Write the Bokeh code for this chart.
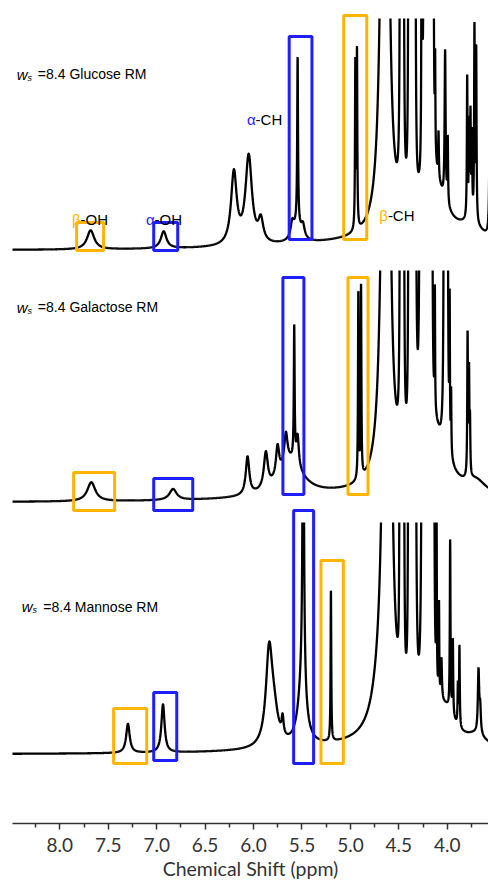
import numpy as np
from bokeh.plotting import figure
from bokeh.models import Label, Range1d, FixedTicker, PrintfTickFormatter
from bokeh.embed import file_html
from bokeh.resources import INLINE

# ---------------- data: peak tables (ppm, height in a.u., half-width in ppm)
glc_pos = [7.682, 6.928, 6.203, 6.050, 5.925, 5.600, 5.545, 5.550, 5.490, 4.949, 4.932,
           4.700, 4.150, 3.750, 4.640, 4.660,
           4.483, 4.468, 4.454, 4.396, 4.375, 4.354, 4.333,
           4.262, 4.239, 4.216, 4.193, 4.170, 4.147,
           4.125, 4.090, 4.022, 3.995, 3.794, 3.775, 3.760, 3.745, 3.719, 3.701, 3.560]
glc_hgt = [19, 17, 72, 88, 22, 14, 165, 18, 12, 165, 175,
           8, 60, 15, 1500, 130,
           1500, 1500, 1500, 1500, 1500, 1500, 1500,
           1500, 1500, 1500, 1500, 1500, 1500,
           90, 45, 150, 65, 140, 90, 100, 80, 190, 170, 150]
glc_hw = [0.045, 0.035, 0.035, 0.040, 0.030, 0.020, 0.005, 0.050, 0.020, 0.004, 0.004,
          1.0, 0.15, 0.15, 0.020, 0.040,
          0.003, 0.003, 0.003, 0.003, 0.003, 0.003, 0.003,
          0.002, 0.003, 0.003, 0.003, 0.003, 0.003,
          0.003, 0.004, 0.006, 0.004, 0.004, 0.004, 0.004, 0.004, 0.004, 0.004, 0.006]

gal_pos = [7.675, 6.831, 6.062, 5.873, 5.752, 5.666, 5.620, 5.580, 5.545, 4.918, 4.890,
           4.700, 4.150, 3.700, 4.630, 4.660,
           4.483, 4.468, 4.452, 4.395, 4.374, 4.353, 4.333,
           4.275, 4.252, 4.229, 4.206, 4.183, 4.160,
           4.128, 4.030, 4.015, 4.000, 3.975, 3.960, 3.790, 3.775, 3.765]
gal_hgt = [19, 11, 38, 36, 30, 30, 35, 132, 30, 185, 190,
           8, 60, 12, 2000, 120,
           1500, 1500, 1500, 1500, 1500, 1500, 1500,
           1500, 1500, 1500, 1500, 1500, 1500,
           120, 1500, 1500, 1500, 140, 60, 140, 100, 50]
gal_hw = [0.050, 0.045, 0.022, 0.025, 0.020, 0.020, 0.150, 0.005, 0.015, 0.004, 0.004,
          1.0, 0.15, 0.12, 0.0175, 0.040,
          0.003, 0.003, 0.003, 0.003, 0.003, 0.003, 0.005,
          0.005, 0.003, 0.003, 0.003, 0.003, 0.003,
          0.003, 0.003, 0.003, 0.003, 0.003, 0.003, 0.004, 0.004, 0.004]

man_pos = [7.297, 6.935, 5.839, 5.790, 5.700, 5.487, 5.487, 5.500, 5.201,
           4.700, 4.150, 4.000, 3.700, 4.620, 4.680,
           4.489, 4.468, 4.452, 4.397, 4.376, 4.355, 4.333,
           4.255, 4.232, 4.209, 4.186, 4.163, 4.140,
           4.110, 4.085, 4.060, 3.970, 3.942, 3.890, 3.874, 3.677, 3.660]
man_hgt = [29, 48, 92, 28, 18, 1000, 100, 55, 150,
           8, 30, 20, 10, 2025, 40,
           1500, 1500, 1500, 1500, 1500, 1500, 1500,
           1500, 1500, 1500, 1500, 1500, 1500,
           160, 90, 40, 170, 75, 40, 80, 62, 25]
man_hw = [0.022, 0.020, 0.040, 0.050, 0.012, 0.003, 0.015, 0.050, 0.004,
          1.0, 0.15, 0.10, 0.12, 0.020, 0.10,
          0.002, 0.003, 0.003, 0.003, 0.003, 0.003, 0.005,
          0.005, 0.003, 0.003, 0.003, 0.003, 0.003,
          0.003, 0.003, 0.006, 0.004, 0.004, 0.004, 0.004, 0.008, 0.008]

sample_names = ["Glucose", "Galactose", "Mannose"]
trace_offsets = [504, 252, 0]
clip_height = 232

# highlight boxes: (ppm left, ppm right, bottom, top) relative to each trace's baseline
box_trace = [0, 0, 0, 0, 1, 1, 1, 1, 2, 2, 2, 2]
box_left = [7.827, 7.031, 5.632, 5.069, 7.858, 7.031, 5.697, 5.025, 7.445, 7.031, 5.586, 5.304]
box_right = [7.548, 6.783, 5.397, 4.831, 7.434, 6.628, 5.480, 4.818, 7.103, 6.793, 5.380, 5.073]
box_bottom = [0, 0, 11, 11, -8, -8, 8, 8, -9, -6, -9, -9]
box_top = [28, 28, 214, 235, 30, 24, 225, 225, 46, 62, 244, 194]
box_kind = ["beta", "alpha", "alpha", "beta", "beta", "alpha", "alpha", "beta",
            "beta", "alpha", "alpha", "beta"]

ORANGE = "#FFB400"
BLUE = "#1E1EFF"
BASE = 69

x_start, x_end = 8.489, 3.574
xx = np.linspace(3.50, 8.55, 24000)


def spectrum(pos, hgt, hw):
    y = np.zeros_like(xx)
    for c, h, w in zip(pos, hgt, hw):
        y += h * w * w / ((xx - c) ** 2 + w * w)
    return y


def clip_line(x, y, top):
    xs, ys = [], []
    above = y > top
    for i in range(len(x)):
        if i > 0 and above[i] != above[i - 1]:
            t = (top - y[i - 1]) / (y[i] - y[i - 1])
            xs.append(x[i - 1] + t * (x[i] - x[i - 1]))
            ys.append(top)
            if above[i]:
                xs.append(np.nan)
                ys.append(np.nan)
        if not above[i]:
            xs.append(x[i])
            ys.append(y[i])
    return np.array(xs), np.array(ys)


p = figure(width=488, height=883, output_backend="svg", toolbar_location=None,
           x_range=Range1d(x_start, x_end), y_range=Range1d(0, 815),
           min_border_left=12, min_border_right=0, min_border_top=8, min_border_bottom=60)
p.grid.visible = False
p.yaxis.visible = False
p.outline_line_color = None
p.background_fill_color = "white"

tables = [(glc_pos, glc_hgt, glc_hw), (gal_pos, gal_hgt, gal_hw), (man_pos, man_hgt, man_hw)]
for (pos, hgt, hw), off in zip(tables, trace_offsets):
    y = spectrum(pos, hgt, hw)
    xs, ys = clip_line(xx, y, clip_height)
    p.line(xs, ys + BASE + off, line_color="black", line_width=2.3)

for i in range(len(box_left)):
    off = trace_offsets[box_trace[i]] + BASE
    p.quad(left=box_left[i], right=box_right[i], bottom=box_bottom[i] + off, top=box_top[i] + off,
           fill_alpha=0, line_color=ORANGE if box_kind[i] == "beta" else BLUE, line_width=3)

# sample labels ("w" italic with subscript "s")
name_split = [8.333, 8.333, 8.282]
name_y = [176.5, 195.5, 148]
name_rest_x = [8.227, 8.227, 8.171]
for nm, sx, ny, rx, off in zip(sample_names, name_split, name_y, name_rest_x, trace_offsets):
    yb = BASE + off + ny
    p.add_layout(Label(x=sx, y=yb, text="w", text_font="Liberation Sans", text_font_size="15px",
                       text_font_style="italic", text_align="right", text_baseline="alphabetic",
                       text_color="black"))
    p.add_layout(Label(x=sx, y=yb - 3.5, text="s", text_font="Liberation Sans",
                       text_font_size="9px", text_font_style="italic", text_align="left",
                       text_baseline="alphabetic", text_color="black"))
    p.add_layout(Label(x=rx, y=yb, text="=8.4 " + nm + " RM", text_font="Liberation Sans",
                       text_font_size="14px", text_align="left", text_baseline="alphabetic",
                       text_color="black"))

# peak annotations (glucose panel)
ann_x = [7.786, 7.022, 5.979, 4.613]
ann_y = [31.5, 31.5, 130.7, 35]
ann_greek = ["β", "α", "α", "β"]
ann_rest = ["-OH", "-OH", "-CH", "-CH"]
for ax, ay, g, r in zip(ann_x, ann_y, ann_greek, ann_rest):
    yb = BASE + trace_offsets[0] + ay
    p.add_layout(Label(x=ax, y=yb, text=g, text_font="Liberation Sans", text_font_size="15px",
                       text_align="right", text_baseline="alphabetic",
                       text_color=ORANGE if g == "β" else BLUE))
    p.add_layout(Label(x=ax, y=yb, text=r, text_font="Liberation Sans", text_font_size="15px",
                       text_align="left", text_baseline="alphabetic", text_color="black"))

ax_ = p.xaxis[0]
ax_.ticker = FixedTicker(ticks=[8.0, 7.5, 7.0, 6.5, 6.0, 5.5, 5.0, 4.5, 4.0],
                         minor_ticks=[8.25, 7.75, 7.25, 6.75, 6.25, 5.75, 5.25, 4.75, 4.25, 3.75])
ax_.formatter = PrintfTickFormatter(format="%.1f")
ax_.major_label_text_font = "Lato"
ax_.major_label_text_font_size = "19px"
ax_.major_label_text_color = "#333333"
ax_.major_label_text_line_height = 1.0
ax_.major_label_standoff = 8
ax_.major_tick_out = 6
ax_.major_tick_in = 0
ax_.minor_tick_out = 4
ax_.minor_tick_in = 0
ax_.axis_line_color = "#333333"
ax_.major_tick_line_color = "#333333"
ax_.minor_tick_line_color = "#333333"
ax_.axis_line_width = 1.5
ax_.major_tick_line_width = 1.5
ax_.minor_tick_line_width = 1.5
ax_.axis_label = "Chemical Shift (ppm)"
ax_.axis_label_text_font = "Lato"
ax_.axis_label_text_font_size = "19.5px"
ax_.axis_label_text_font_style = "normal"
ax_.axis_label_text_color = "#333333"
ax_.axis_label_text_line_height = 1.0
ax_.axis_label_standoff = 2

open("out.html", "w").write(file_html(p, INLINE))
